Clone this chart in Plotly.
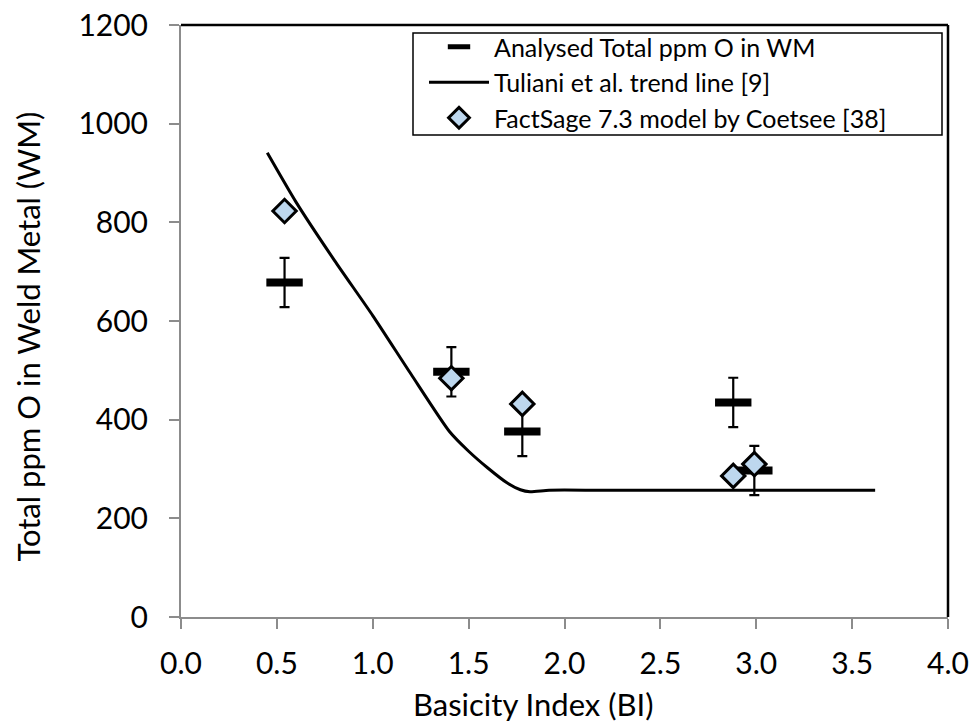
import plotly.graph_objects as go

# Analysed total ppm O in weld metal (with error bars)
bi_analysed = [0.54, 1.41, 1.78, 2.88, 2.99]
o_analysed = [678, 497, 376, 435, 297]
o_analysed_err = [50, 50, 50, 50, 50]

# Tuliani et al. trend line
bi_trend = [0.45, 0.6, 0.8, 1.0, 1.2, 1.4, 1.5, 1.6, 1.7, 1.77, 1.82, 1.92, 2.2, 3.62]
o_trend = [941, 841, 723, 611, 492, 376, 336, 302, 272, 258, 254, 257, 257, 257]

# FactSage 7.3 model by Coetsee
bi_factsage = [0.54, 1.41, 1.78, 2.88, 2.99]
o_factsage = [823, 484, 432, 286, 310]

x_ticks = [0.0, 0.5, 1.0, 1.5, 2.0, 2.5, 3.0, 3.5, 4.0]
y_ticks = [0, 200, 400, 600, 800, 1000, 1200]

x_title = "Basicity Index (BI)"
y_title = "Total ppm O in Weld Metal (WM)"

FONT = "Lato, Carlito, Calibri, sans-serif"

fig = go.Figure()

fig.add_trace(go.Scatter(
    x=bi_trend, y=o_trend, mode="lines",
    name="Tuliani et al. trend line [9]",
    line=dict(color="black", width=3, shape="spline", smoothing=0.6),
    legendrank=2,
))

fig.add_trace(go.Scatter(
    x=bi_analysed, y=o_analysed, mode="markers",
    name="Analysed Total ppm O in WM",
    marker=dict(symbol="line-ew", size=26, color="black",
                line=dict(color="black", width=8)),
    error_y=dict(type="data", array=o_analysed_err, visible=True,
                 color="black", thickness=2.2, width=5),
    legendrank=1,
))

fig.add_trace(go.Scatter(
    x=bi_factsage, y=o_factsage, mode="markers",
    name="FactSage 7.3 model by Coetsee [38]",
    marker=dict(symbol="diamond", size=18, color="#BDD7EE",
                line=dict(color="black", width=3)),
    legendrank=3,
))

axis_common = dict(
    showgrid=False, zeroline=False, automargin=False,
    showline=True, linecolor="#8c8c8c", linewidth=2,
    ticks="outside", ticklen=10, tickwidth=2, tickcolor="#8c8c8c",
    tickfont=dict(family=FONT, size=30, color="black"),
)

fig.update_xaxes(
    range=[0, 4], tickvals=x_ticks,
    ticktext=[f"{v:.1f}" for v in x_ticks],
    ticklabelstandoff=9,
    **axis_common,
)
fig.update_yaxes(
    range=[0, 1200], tickvals=y_ticks,
    ticktext=[str(v) for v in y_ticks],
    ticklabelstandoff=15,
    **axis_common,
)

# axis titles (placed as in the original)
fig.add_annotation(text=x_title, xref="paper", yref="paper",
                   x=0.460, y=-0.147, xanchor="center", yanchor="middle",
                   showarrow=False, font=dict(family=FONT, size=31, color="black"))
fig.add_annotation(text=y_title, xref="paper", yref="paper", textangle=-90,
                   x=-0.2, y=0.473, xanchor="center", yanchor="middle",
                   showarrow=False, font=dict(family=FONT, size=31, color="black"))

# black frame on top and right
fig.add_shape(type="line", xref="paper", yref="paper", x0=0, x1=1, y0=1, y1=1,
              line=dict(color="black", width=2.5))
fig.add_shape(type="line", xref="paper", yref="paper", x0=1, x1=1, y0=0, y1=1,
              line=dict(color="black", width=2.5))

# legend box
fig.add_shape(type="rect", xref="paper", yref="paper",
              x0=(413 - 181) / 767, x1=(942 - 181) / 767,
              y0=(617 - 135) / 592, y1=(617 - 33) / 592,
              line=dict(color="black", width=1.5), fillcolor="white", layer="below")

fig.update_layout(
    width=979, height=722,
    margin=dict(l=181, r=31, t=25, b=105, autoexpand=False),
    paper_bgcolor="white", plot_bgcolor="white",
    font=dict(family=FONT, color="black"),
    showlegend=True,
    legend=dict(
        x=(424 - 181) / 767, y=(617 - 24) / 592, xanchor="left", yanchor="top",
        bgcolor="rgba(0,0,0,0)", borderwidth=0,
        font=dict(family=FONT, size=25, color="black"),
        tracegroupgap=0, itemsizing="trace", itemwidth=60,
    ),
)

fig.write_html("out.html", config={"displayModeBar": False},
               post_script="document.body.style.margin='0';")
